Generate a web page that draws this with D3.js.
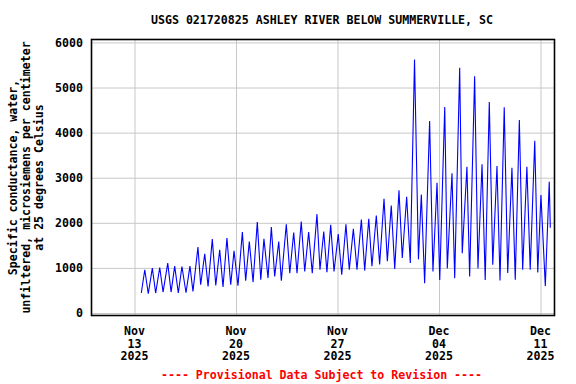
<!DOCTYPE html>
<html lang="en">
<head>
<meta charset="UTF-8">
<title>USGS 021720825 Ashley River</title>
<script src="https://d3js.org/d3.v7.min.js"></script>
<style>
  body { margin: 0; background: #fff; }
  svg { display: block; }
  text { font-family: "DejaVu Sans Mono", "Liberation Mono", monospace; font-weight: bold; fill: #000; }
</style>
</head>
<body>
<svg id="chart" width="576" height="384"></svg>
<script>
// chart text
let stationTitle = 'USGS 021720825 ASHLEY RIVER BELOW SUMMERVILLE, SC'
let yLabelLines = ['Specific conductance, water,', 'unfiltered, microsiemens per centimeter', 'at 25 degrees Celsius']
let footNote = '---- Provisional Data Subject to Revision ----'

// ticks
let yTicks = [0, 1000, 2000, 3000, 4000, 5000, 6000]
let xTicks = ['2025-11-13', '2025-11-20', '2025-11-27', '2025-12-04', '2025-12-11']

// tidal highs and lows
let times = [
  '2025-11-13 11:15', '2025-11-13 17:00', '2025-11-13 22:45', '2025-11-14 05:30', '2025-11-14 11:00',
  '2025-11-14 17:45', '2025-11-14 23:15', '2025-11-15 07:00', '2025-11-15 12:30', '2025-11-15 18:30',
  '2025-11-16 00:30', '2025-11-16 06:30', '2025-11-16 13:15', '2025-11-16 19:45', '2025-11-17 00:45',
  '2025-11-17 09:00', '2025-11-17 13:30', '2025-11-17 20:15', '2025-11-18 01:45', '2025-11-18 08:45',
  '2025-11-18 14:30', '2025-11-18 21:00', '2025-11-19 02:30', '2025-11-19 09:00', '2025-11-19 15:15',
  '2025-11-19 20:45', '2025-11-20 03:15', '2025-11-20 10:30', '2025-11-20 16:00', '2025-11-20 22:00',
  '2025-11-21 04:15', '2025-11-21 11:15', '2025-11-21 17:00', '2025-11-21 22:15', '2025-11-22 05:00',
  '2025-11-22 10:30', '2025-11-22 16:00', '2025-11-22 22:45', '2025-11-23 03:00', '2025-11-23 11:15',
  '2025-11-23 17:00', '2025-11-23 23:30', '2025-11-24 05:00', '2025-11-24 12:00', '2025-11-24 17:45',
  '2025-11-25 00:15', '2025-11-25 06:15', '2025-11-25 14:00', '2025-11-25 19:00', '2025-11-26 01:15',
  '2025-11-26 06:30', '2025-11-26 12:45', '2025-11-26 18:15', '2025-11-27 01:15', '2025-11-27 07:00',
  '2025-11-27 14:00', '2025-11-27 19:30', '2025-11-28 02:15', '2025-11-28 08:15', '2025-11-28 15:30',
  '2025-11-28 21:00', '2025-11-29 03:45', '2025-11-29 09:00', '2025-11-29 16:15', '2025-11-29 21:45',
  '2025-11-30 05:00', '2025-11-30 10:30', '2025-11-30 17:00', '2025-11-30 22:45', '2025-12-01 05:45',
  '2025-12-01 11:15', '2025-12-01 18:30', '2025-12-02 00:30', '2025-12-02 07:30', '2025-12-02 14:00',
  '2025-12-02 18:45', '2025-12-03 00:15', '2025-12-03 08:30', '2025-12-03 14:00', '2025-12-03 20:45',
  '2025-12-04 01:15', '2025-12-04 09:30', '2025-12-04 13:45', '2025-12-04 21:30', '2025-12-05 02:00',
  '2025-12-05 10:15', '2025-12-05 14:30', '2025-12-05 22:15', '2025-12-06 02:45', '2025-12-06 11:00',
  '2025-12-06 16:30', '2025-12-06 23:15', '2025-12-07 04:30', '2025-12-07 11:15', '2025-12-07 17:00',
  '2025-12-08 00:00', '2025-12-08 05:00', '2025-12-08 12:00', '2025-12-08 17:45', '2025-12-09 00:45',
  '2025-12-09 06:15', '2025-12-09 13:00', '2025-12-09 18:30', '2025-12-10 01:30', '2025-12-10 07:00',
  '2025-12-10 14:30', '2025-12-10 19:30', '2025-12-11 00:45', '2025-12-11 08:00', '2025-12-11 14:30',
  '2025-12-11 16:15'
]
let conductance = [
  443, 960, 427, 996, 443,
  1010, 465, 1107, 465, 1040,
  443, 1032, 450, 1040, 480,
  1461, 627, 1313, 590, 1638,
  611, 1401, 576, 1660, 627,
  1380, 604, 1793, 715, 1586,
  686, 2015, 737, 1645, 775,
  1904, 810, 1586, 715, 1970,
  885, 1785, 885, 2030, 921,
  1793, 885, 2192, 959, 1807,
  907, 1955, 921, 1749, 848,
  1970, 959, 1867, 963, 2074,
  941, 2089, 1037, 2163, 1074,
  2533, 1148, 2385, 978, 2719,
  1222, 2578, 1111, 5620, 1190,
  2630, 660, 4255, 920, 2890,
  735, 4570, 990, 3100, 770,
  5440, 1325, 3245, 810, 5250,
  990, 3300, 735, 4680, 1070,
  3260, 720, 4560, 890, 3220,
  740, 4280, 960, 3245, 960,
  3820, 900, 2615, 600, 2910,
  1890
]

let parseTime = d3.timeParse('%Y-%m-%d %H:%M')
let parseDay = d3.timeParse('%Y-%m-%d')

let data = times.map((t, i) => ({ time: parseTime(t), value: conductance[i] }))

let plotLeft = 91.5
let plotRight = 554.5
let plotTop = 39.5
let plotBottom = 315.5
let fontSize = 11.6

let svg = d3.select('#chart')

let x = d3.scaleTime()
  .domain([parseTime('2025-11-10 00:48'), parseTime('2025-12-11 23:12')])
  .range([plotLeft, plotRight])

let y = d3.scaleLinear()
  .domain([-55, 6065])
  .range([plotBottom, plotTop])

// gridlines + y labels
let yAxis = svg.append('g')
  .attr('transform', `translate(${plotLeft},0)`)
  .call(d3.axisLeft(y).tickValues(yTicks).tickSize(-(plotRight - plotLeft)).tickPadding(8.5).tickFormat(d3.format('d')))
yAxis.select('.domain').remove()
yAxis.selectAll('line').attr('stroke', '#c8c8c8').attr('stroke-width', 1)
yAxis.selectAll('text').attr('font-size', fontSize)

let xAxis = svg.append('g')
  .attr('transform', `translate(0,${plotBottom})`)
  .call(d3.axisBottom(x).tickValues(xTicks.map(parseDay)).tickSize(-(plotBottom - plotTop)).tickFormat(''))
xAxis.select('.domain').remove()
xAxis.selectAll('line').attr('stroke', '#c8c8c8').attr('stroke-width', 1)

// three line date labels
let fmtLines = [d3.timeFormat('%b'), d3.timeFormat('%d'), d3.timeFormat('%Y')]
xTicks.map(parseDay).forEach((d) => {
  let t = svg.append('text')
    .attr('x', x(d))
    .attr('text-anchor', 'middle')
    .attr('font-size', fontSize)
  fmtLines.forEach((f, i) => {
    t.append('tspan')
      .attr('x', x(d))
      .attr('y', 335 + i * 12.7)
      .text(f(d))
  })
})

// data line
let line = d3.line()
  .x((d) => x(d.time))
  .y((d) => y(d.value))

svg.append('path')
  .datum(data)
  .attr('d', line)
  .attr('fill', 'none')
  .attr('stroke', '#0000ff')
  .attr('stroke-width', 1.1)

// frame
svg.append('rect')
  .attr('x', plotLeft)
  .attr('y', plotTop)
  .attr('width', plotRight - plotLeft)
  .attr('height', plotBottom - plotTop)
  .attr('fill', 'none')
  .attr('stroke', '#000')
  .attr('stroke-width', 1.6)

svg.append('text')
  .attr('x', 322)
  .attr('y', 24)
  .attr('text-anchor', 'middle')
  .attr('font-size', fontSize)
  .text(stationTitle)

// rotated y label
let yl = svg.append('text')
  .attr('transform', `translate(0,${(plotTop + plotBottom) / 2}) rotate(-90)`)
  .attr('text-anchor', 'middle')
  .attr('font-size', fontSize)
yLabelLines.forEach((s, i) => {
  yl.append('tspan')
    .attr('x', 0)
    .attr('y', 17 + i * 13)
    .text(s)
})

svg.append('text')
  .attr('x', 321.5)
  .attr('y', 379)
  .attr('text-anchor', 'middle')
  .attr('font-size', fontSize)
  .style('fill', '#ff0000')
  .text(footNote)
</script>
</body>
</html>
